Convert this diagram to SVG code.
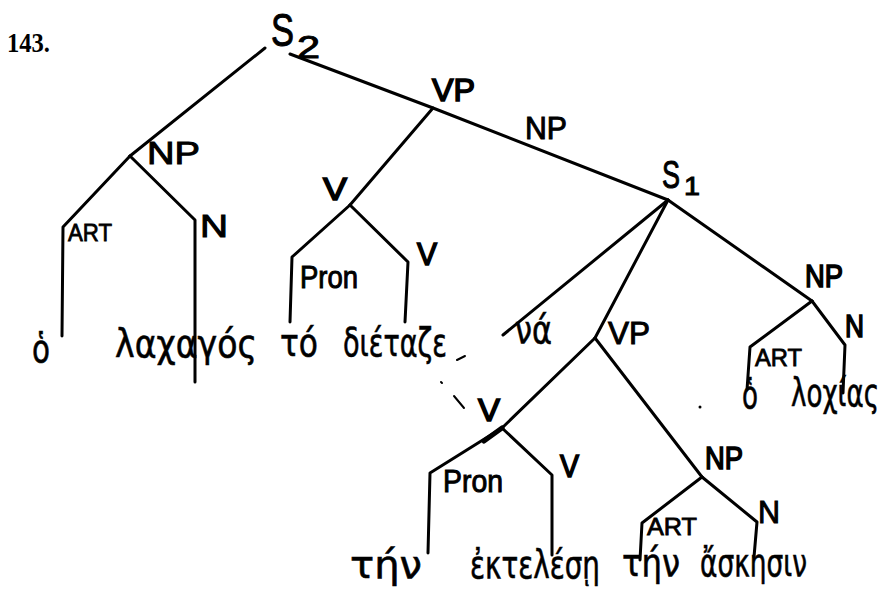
<svg xmlns="http://www.w3.org/2000/svg" width="887" height="589" viewBox="0 0 887 589">
<style>
.e{fill:none;stroke:#000;stroke-width:3;stroke-linecap:round;stroke-linejoin:round}
.d{fill:none;stroke:#000;stroke-width:2;stroke-linecap:round}
.l{font-family:"Liberation Sans","DejaVu Sans",sans-serif;font-size:32px;fill:#000;stroke:#000;stroke-width:1}
.b{stroke-width:1.6}
.a{font-size:24px;stroke-width:0.8}
.w{font-family:"DejaVu Sans","Noto Sans",sans-serif;font-size:39px;fill:#000;stroke:#000;stroke-width:0.6}
.n{font-family:"Liberation Serif",serif;font-size:28px;font-weight:bold;fill:#000}
</style>
<rect width="887" height="589" fill="#fff"/>
<text class="n" x="7" y="52" textLength="43" lengthAdjust="spacingAndGlyphs">143.</text>
<g id="connectors">
<path class="e" d="M265,48 L130,156"/>
<path class="e" d="M130,156 L63,227 L62,336"/>
<path class="e" d="M130,156 L195,220 L195,382"/>
<path class="e" d="M290,54 L433,108 L668,200"/>
<path class="e" d="M433,108 L350,205"/>
<path class="e" d="M350,205 L292,257 L290,322"/>
<path class="e" d="M350,205 L408,262 L405,322"/>
<path class="e" d="M668,200 L503,335"/>
<path class="e" d="M668,200 L595,338"/>
<path class="e" d="M668,200 L812,301"/>
<path class="e" d="M812,301 L750,347 L747,390"/>
<path class="e" d="M812,301 L845,345 L843,393"/>
<path class="e" d="M595,338 L502,428"/>
<path class="e" d="M502,428 L430,473 L428,553"/>
<path class="e" style="stroke-width:5" d="M502,428 L484,441"/>
<path class="e" d="M502,428 L552,475 L552,555"/>
<path class="e" d="M595,338 L702,477"/>
<path class="e" d="M702,477 L642,523 L640,560"/>
<path class="e" d="M702,477 L757,522 L754,557"/>
<path class="d" d="M457,360 L465,356 M441,382 L442,383 M454,396 L464,408"/>
<circle cx="700" cy="407" r="1.5" fill="#000"/>
</g>
<g id="S2"><text class="l" x="271" y="46" style="font-size:46px" textLength="23" lengthAdjust="spacingAndGlyphs">S</text><text class="l" x="297" y="58" style="font-size:32px" textLength="23" lengthAdjust="spacingAndGlyphs">2</text></g>
<g id="NP1"><text class="l" x="147" y="164" textLength="53" lengthAdjust="spacingAndGlyphs">NP</text></g>
<g id="ART1"><text class="l a" x="68" y="241" textLength="44" lengthAdjust="spacingAndGlyphs">ART</text></g>
<g id="N1"><text class="l" x="200" y="237" textLength="28" lengthAdjust="spacingAndGlyphs">N</text></g>
<g id="VP1"><text class="l b" x="432" y="101" textLength="43" lengthAdjust="spacingAndGlyphs">VP</text></g>
<g id="NPmid"><text class="l" x="525" y="139" textLength="42" lengthAdjust="spacingAndGlyphs">NP</text></g>
<g id="V1"><text class="l b" x="323" y="200" textLength="24" lengthAdjust="spacingAndGlyphs">V</text></g>
<g id="Pron1"><text class="l" x="300" y="288" textLength="58" lengthAdjust="spacingAndGlyphs">Pron</text></g>
<g id="V2"><text class="l b" x="417" y="265" textLength="20" lengthAdjust="spacingAndGlyphs">V</text></g>
<g id="S1"><text class="l" x="662" y="188" style="font-size:38px" textLength="18" lengthAdjust="spacingAndGlyphs">S</text><text class="l" x="684" y="195" style="font-size:26px" textLength="16" lengthAdjust="spacingAndGlyphs">1</text></g>
<g id="NP2"><text class="l b" x="805" y="287" textLength="38" lengthAdjust="spacingAndGlyphs">NP</text></g>
<g id="ART2"><text class="l a" x="755" y="366" textLength="47" lengthAdjust="spacingAndGlyphs">ART</text></g>
<g id="N2"><text class="l b" x="845" y="337" textLength="19" lengthAdjust="spacingAndGlyphs">N</text></g>
<g id="VP2"><text class="l" x="608" y="344" textLength="42" lengthAdjust="spacingAndGlyphs">VP</text></g>
<g id="V3"><text class="l b" x="478" y="421" textLength="22" lengthAdjust="spacingAndGlyphs">V</text></g>
<g id="Pron2"><text class="l" x="443" y="492" textLength="60" lengthAdjust="spacingAndGlyphs">Pron</text></g>
<g id="V4"><text class="l b" x="560" y="477" textLength="19" lengthAdjust="spacingAndGlyphs">V</text></g>
<g id="NP3"><text class="l b" x="705" y="469" textLength="38" lengthAdjust="spacingAndGlyphs">NP</text></g>
<g id="ART3"><text class="l a" x="647" y="535" textLength="50" lengthAdjust="spacingAndGlyphs">ART</text></g>
<g id="N3"><text class="l" x="758" y="523" textLength="22" lengthAdjust="spacingAndGlyphs">N</text></g>
<g id="words">
<text class="w" x="32" y="362" textLength="18" lengthAdjust="spacingAndGlyphs">ὁ</text>
<text class="w" x="115" y="357" textLength="142" lengthAdjust="spacingAndGlyphs">λαχαγός</text>
<text class="w" x="280" y="356" textLength="38" lengthAdjust="spacingAndGlyphs">τό</text>
<text class="w" x="343" y="356" textLength="104" lengthAdjust="spacingAndGlyphs">διέταζε</text>
<text class="w" x="515" y="343" textLength="37" lengthAdjust="spacingAndGlyphs">νά</text>
<text class="w" x="742" y="408" textLength="16" lengthAdjust="spacingAndGlyphs">ὁ</text>
<text class="w" x="791" y="406" textLength="88" lengthAdjust="spacingAndGlyphs">λοχίας</text>
<text class="w" x="350" y="578" textLength="72" lengthAdjust="spacingAndGlyphs">τήν</text>
<text class="w" x="470" y="578" textLength="130" lengthAdjust="spacingAndGlyphs">ἐκτελέσῃ</text>
<text class="w" x="622" y="576" textLength="58" lengthAdjust="spacingAndGlyphs">τήν</text>
<text class="w" x="700" y="576" textLength="107" lengthAdjust="spacingAndGlyphs">ἄσκησιν</text>
</g>
</svg>
